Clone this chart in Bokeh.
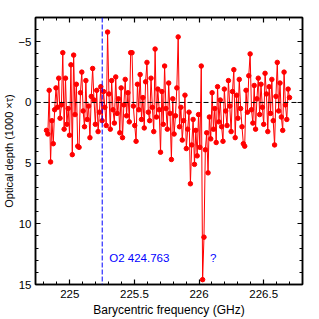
from bokeh.plotting import figure
from bokeh.models import SingleIntervalTicker, LinearAxis, Span, Range1d, ColumnDataSource
from bokeh.core.properties import value
from bokeh.embed import file_html
from bokeh.resources import INLINE

# ---- data ----
freq_start = 224.82      # GHz, first channel
channel_width = 0.0105   # GHz
depth = [
    2.3, 2.6, -1.0, 4.9, 1.5, 3.4, 0.6, -1.2, 0.4, -2.0,
    1.3, 0.2, -4.1, 2.2, -2.0, 1.8, 0.5, 2.7, -3.1, 4.3,
    -3.9, 1.0, -1.5, 3.6, 3.7, -0.8, -2.5, 0.7, 2.0, -1.8,
    1.4, 0.3, 2.9, -0.5, -2.8, -0.2, 1.8, -1.0, 2.4, 0.8,
    -1.3, 1.5, -0.9, 0.4, 1.9, -5.8, -0.7, 2.2, -1.8, 0.6,
    1.7, -2.1, 0.9, -0.3, 2.5, -1.2, 2.9, 0.2, -1.9, 1.1,
    -0.8, 1.6, -4.1, -4.1, 0.3, 1.9, 3.2, -1.5, 0.6, -2.3,
    1.4, -0.4, 2.1, -1.7, -3.3, 0.8, 1.5, -2.0, 0.4, 2.4,
    -4.4, 1.2, -1.1, 0.6, 4.1, -0.9, 1.8, -3.0, 0.5, 2.2,
    -1.6, 0.9, 4.7, -0.3, 2.6, 1.1, -1.2, -5.4, 2.0, 0.4,
    3.1, 1.5, -0.6, 3.8, 2.2, 0.8, 6.7, 3.5, 1.4, 5.1,
    2.3, 4.4, 1.0, 3.7, -3.0, 14.6, 11.1, 3.9, 2.5, 5.8,
    1.2, 3.0, -0.8, 2.2, 0.5, 3.3, -1.3, 1.6, -0.2, 2.0,
    3.2, -1.1, 0.7, 1.9, -1.8, 0.3, 2.4, -0.9, -2.7, 2.9,
    -0.6, 1.3, -1.9, 0.5, 2.0, 3.4, 3.6, -1.0, 0.8, -2.2,
    -4.0, 0.6, 1.7, -1.4, 2.2, -0.3, -2.0, 1.0, -1.5, 0.4,
    1.8, -2.4, -0.7, 2.4, -1.3, 0.9, -1.9, 1.5, 3.5, -0.5,
    -3.3, 0.7, -1.6, 1.2, 2.3, -2.5, 0.2, 1.4, -1.1, -0.4,
]
freq = [freq_start + channel_width * i for i in range(len(depth))]

x_ticks = [225, 225.5, 226, 226.5]
x_tick_labels = ["225", "225.5", "226", "226.5"]
y_ticks = [-5, 0, 5, 10, 15]
y_tick_labels = ["\u22125", "0", "5", "10", "15"]

line_freqs = [225.251, 226.03]
line_labels = ["O2 424.763", "?"]
line_drawn = [True, False]
label_depth = 12.8

x_title = "Barycentric frequency (GHz)"
y_title = "Optical depth (1000 \u00d7\u03c4)"

x_lo, x_hi = 224.735, 226.80
y_top, y_bottom = -7, 15

FONT = "Liberation Sans"

# ---- figure ----
p = figure(width=319, height=319,
           x_range=Range1d(x_lo, x_hi), y_range=Range1d(y_bottom, y_top),
           output_backend="svg", toolbar_location=None,
           min_border_left=35, min_border_right=17, min_border_top=17, min_border_bottom=34,
           background_fill_color="white", border_fill_color="white")
p.xgrid.visible = False
p.ygrid.visible = False
p.outline_line_color = "black"
p.outline_line_width = 1.5

def style_axis(ax, interval, labels, blank_ticks=None, standoff=5):
    ax.ticker = SingleIntervalTicker(interval=interval, num_minor_ticks=5)
    ax.major_tick_in = 5
    ax.major_tick_out = 0
    ax.minor_tick_in = 3
    ax.minor_tick_out = 0
    ax.axis_line_color = "black"
    ax.axis_line_width = 1.5
    ax.major_tick_line_color = "black"
    ax.major_tick_line_width = 1.2
    ax.minor_tick_line_color = "black"
    ax.minor_tick_line_width = 1
    ax.major_label_text_font = FONT
    ax.major_label_text_font_size = "11.5px"
    ax.major_label_text_color = "black"
    if labels is None:
        ax.major_label_overrides = {t: "" for t in blank_ticks}
        ax.major_label_standoff = 0
    else:
        ax.major_label_overrides = labels
        ax.major_label_standoff = standoff

xa = p.xaxis[0]
style_axis(xa, 0.5, dict(zip(x_ticks, x_tick_labels)))
xa.axis_label = x_title
xa.axis_label_text_font = FONT
xa.axis_label_text_font_size = "12px"
xa.axis_label_text_font_style = "normal"
xa.axis_label_text_color = "black"
xa.axis_label_standoff = 2

ya = p.yaxis[0]
style_axis(ya, 5, dict(zip(y_ticks, y_tick_labels)), standoff=4)
ya.axis_label = y_title
ya.axis_label_text_font = FONT
ya.axis_label_text_font_size = "11px"
ya.axis_label_text_font_style = "normal"
ya.axis_label_text_color = "black"
ya.axis_label_standoff = 0

top_ax = LinearAxis()
style_axis(top_ax, 0.5, None, x_ticks)
p.add_layout(top_ax, "above")
right_ax = LinearAxis()
style_axis(right_ax, 5, None, y_ticks)
p.add_layout(right_ax, "right")

# ---- data ----
src = ColumnDataSource(dict(freq=freq, depth=depth))
p.line("freq", "depth", source=src, line_color="#ff0000", line_width=1)
p.scatter("freq", "depth", source=src, size=4.5, fill_color="#ff0000",
          line_color="#ff0000")

p.add_layout(Span(location=0, dimension="width", line_color="black",
                  line_dash="5 3", line_width=1))
for f, drawn in zip(line_freqs, line_drawn):
    if drawn:
        p.add_layout(Span(location=f, dimension="height", line_color="#0000ff",
                          line_dash="5 2", line_width=1))

p.text(x=line_freqs, y=[label_depth] * len(line_freqs), text=line_labels,
       x_offset=7, text_color="#0000ff", text_font=value(FONT),
       text_font_size="11.5px", text_baseline="middle", text_align="left")

open("out.html", "w").write(file_html(p, INLINE))
